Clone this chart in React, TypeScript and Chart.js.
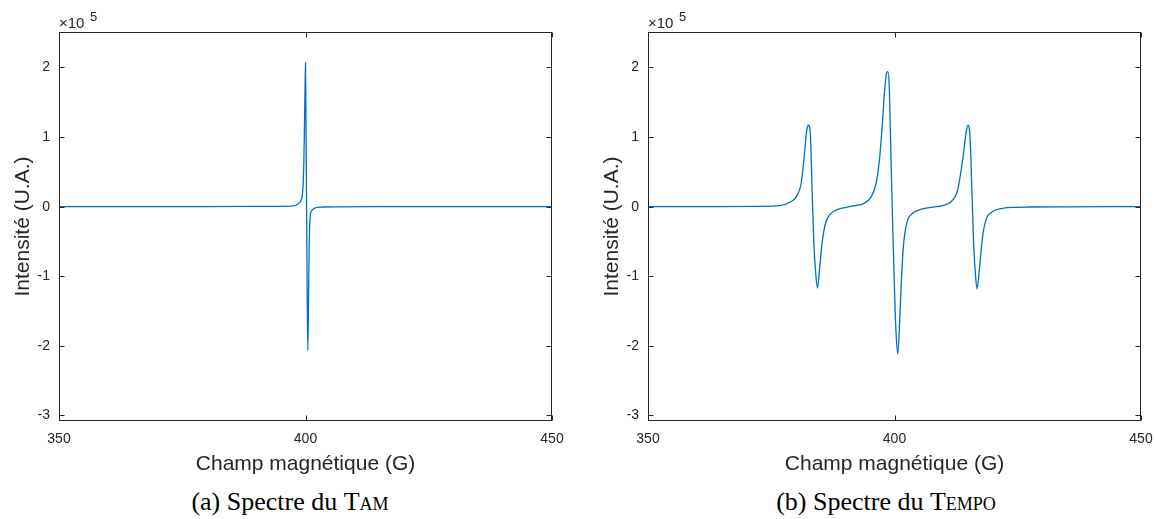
import React, { useEffect, useRef } from "react";
import { Chart, registerables } from "chart.js";

Chart.register(...registerables);

// Axis ticks
const xTicks = [350, 400, 450];
const yTicks = [-3, -2, -1, 0, 1, 2];
const xMin = 350;
const xMax = 450;
const yMin = -3.08;
const yMax = 2.51;

// (a) TAM spectrum — field (G) and intensity (×10^5 U.A.)
const tamField = [350, 380, 390, 395, 397.6, 398.4, 398.95, 399.3, 399.5, 399.65, 399.78, 399.9, 400.0, 400.1, 400.22, 400.34, 400.47, 400.6, 400.74, 400.88, 401.02, 401.35, 401.8, 402.35, 403.5, 406, 415, 450];
const tamIntensity = [0, 0.001, 0.003, 0.005, 0.01, 0.035, 0.07, 0.14, 0.29, 0.6, 1.1, 1.65, 2.07, 1.2, 0, -1.2, -2.07, -1.4, -0.6, -0.22, -0.1, -0.05, -0.025, -0.01, -0.005, -0.002, -0.0005, 0];

// (b) TEMPO spectrum — field (G) and intensity (×10^5 U.A.)
const tempoField = [350, 365, 372.6, 376.7, 378.7, 380.06, 381.07, 381.75, 382.2, 382.6, 382.96, 383.3, 383.64, 383.97, 384.38, 384.78, 385.3, 385.93, 386.8, 388.17, 390.2, 391.5, 393.56, 395.26, 396.27, 396.94, 397.5, 397.95, 398.4, 398.65, 398.95, 399.3, 399.64, 399.98, 400.32, 400.67, 401.0, 401.34, 401.8, 402.47, 403.7, 405.7, 407.06, 408.4, 409.76, 411.46, 412.8, 413.82, 414.5, 414.9, 415.32, 415.72, 416.05, 416.4, 416.75, 417.2, 417.87, 418.55, 419.9, 421.9, 424.6, 427.3, 435, 450];
const tempoIntensity = [0, 0.002, 0.005, 0.015, 0.06, 0.14, 0.34, 0.77, 1.1, 1.17, 1.0, 0.2, -0.52, -0.91, -1.17, -0.91, -0.53, -0.26, -0.12, -0.05, -0.01, 0.01, 0.04, 0.14, 0.34, 0.67, 1.15, 1.63, 1.92, 1.94, 1.7, 0.67, -0.29, -1.15, -1.82, -2.12, -1.72, -1.15, -0.57, -0.24, -0.095, -0.033, -0.014, 0, 0.015, 0.07, 0.24, 0.67, 1.05, 1.17, 1.0, 0.19, -0.53, -0.96, -1.18, -0.91, -0.43, -0.19, -0.07, -0.023, -0.009, -0.005, -0.002, 0];

const LINE = "#0072BD";
const AX = "#262626";
const SANS = "'Liberation Sans', Arial, Helvetica, sans-serif";
const SERIF = "'Liberation Serif', 'Times New Roman', serif";

const boxPlugin = {
  id: "matlabBox",
  afterDatasetsDraw(chart: any) {
    const { ctx, chartArea: a, scales } = chart;
    ctx.save();
    ctx.strokeStyle = AX;
    ctx.lineWidth = 1;
    const L = Math.round(a.left) + 0.5;
    const R = Math.round(a.right) - 0.5;
    const T = Math.round(a.top) + 0.5;
    const B = Math.round(a.bottom) - 0.5;
    ctx.strokeRect(L, T, R - L, B - T);
    ctx.beginPath();
    const tl = 5;
    for (const v of xTicks) {
      const x = Math.round(scales.x.getPixelForValue(v)) + 0.5;
      ctx.moveTo(x, B);
      ctx.lineTo(x, B - tl);
      ctx.moveTo(x, T);
      ctx.lineTo(x, T + tl);
    }
    for (const v of yTicks) {
      const y = Math.round(scales.y.getPixelForValue(v)) + 0.5;
      ctx.moveTo(L, y);
      ctx.lineTo(L + tl, y);
      ctx.moveTo(R, y);
      ctx.lineTo(R - tl, y);
    }
    ctx.stroke();
    ctx.restore();
  },
};

function Spectrum({ field, intensity }: { field: number[]; intensity: number[] }) {
  const ref = useRef<HTMLCanvasElement | null>(null);
  useEffect(() => {
    if (!ref.current) return;
    const chart = new Chart(ref.current, {
      type: "line",
      data: {
        datasets: [
          {
            data: field.map((x, i) => ({ x, y: intensity[i] })),
            borderColor: LINE,
            borderWidth: 1.3,
            pointRadius: 0,
            cubicInterpolationMode: "monotone",
            fill: false,
          },
        ],
      },
      options: {
        animation: false,
        responsive: false,
        events: [],
        layout: { padding: { top: 32, right: 28, left: 0, bottom: 0 } },
        plugins: { legend: { display: false }, tooltip: { enabled: false } },
        scales: {
          x: {
            type: "linear",
            min: xMin,
            max: xMax,
            afterBuildTicks: (s: any) => {
              s.ticks = xTicks.map((value) => ({ value }));
            },
            afterFit: (s: any) => {
              s.height = 59;
            },
            grid: { display: false, drawTicks: false },
            border: { display: false },
            ticks: {
              padding: 10,
              color: AX,
              font: { family: SANS, size: 14 },
              maxRotation: 0,
              autoSkip: false,
              callback: (v: any) => String(v),
            },
            title: {
              display: true,
              text: "Champ magnétique (G)",
              color: AX,
              font: { family: SANS, size: 21 },
              padding: { top: 0, bottom: 3 },
            },
          },
          y: {
            type: "linear",
            min: yMin,
            max: yMax,
            afterBuildTicks: (s: any) => {
              s.ticks = yTicks.map((value) => ({ value }));
            },
            afterFit: (s: any) => {
              s.width = 59;
            },
            grid: { display: false, drawTicks: false },
            border: { display: false },
            ticks: {
              padding: 9,
              color: AX,
              font: { family: SANS, size: 14 },
              autoSkip: false,
              callback: (v: any) => String(v),
            },
            title: {
              display: true,
              text: "Intensité (U.A.)",
              color: AX,
              font: { family: SANS, size: 21 },
              padding: { top: 11, bottom: 0 },
            },
          },
        },
      },
      plugins: [boxPlugin],
    } as any);
    return () => chart.destroy();
  }, [field, intensity]);
  return <canvas ref={ref} width={580} height={480} style={{ display: "block" }} />;
}

function Multiplier({ left }: { left: number }) {
  return (
    <div style={{ position: "absolute", left, top: 0, fontFamily: SANS, color: AX }}>
      <span style={{ position: "absolute", left: 0, top: 15, fontSize: 15, lineHeight: 1, whiteSpace: "nowrap" }}>×10</span>
      <span style={{ position: "absolute", left: 31, top: 10, fontSize: 13, lineHeight: 1 }}>5</span>
    </div>
  );
}

export default function App() {
  return (
    <div style={{ position: "absolute", left: 0, top: 0, width: 1156, height: 519, background: "#fff", overflow: "hidden" }}>
      <div style={{ position: "absolute", left: 0, top: 0 }}>
        <Spectrum field={tamField} intensity={tamIntensity} />
      </div>
      <div style={{ position: "absolute", left: 589, top: 0 }}>
        <Spectrum field={tempoField} intensity={tempoIntensity} />
      </div>
      <Multiplier left={59} />
      <Multiplier left={648} />
      <div style={{ position: "absolute", left: 0, top: 489, width: 580, textAlign: "center", fontFamily: SERIF, fontSize: 26, lineHeight: 1, color: "#000" }}>
        (a) Spectre du <span style={{ fontVariant: "small-caps" }}>Tam</span>
      </div>
      <div style={{ position: "absolute", left: 596, top: 489, width: 580, textAlign: "center", fontFamily: SERIF, fontSize: 26, lineHeight: 1, color: "#000" }}>
        (b) Spectre du <span style={{ fontVariant: "small-caps" }}>Tempo</span>
      </div>
    </div>
  );
}
